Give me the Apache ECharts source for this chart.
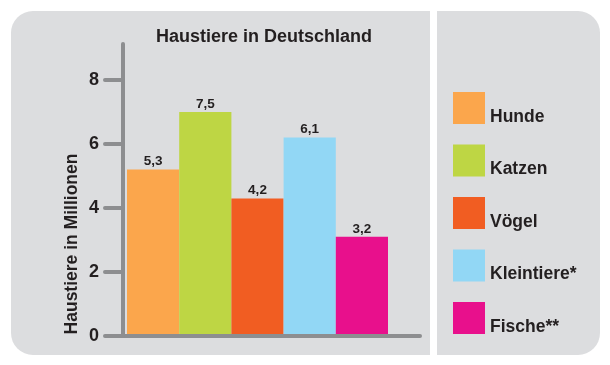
<!DOCTYPE html>
<html>
<head>
<meta charset="utf-8">
<script src="https://cdn.jsdelivr.net/npm/echarts@6/dist/echarts.min.js"></script>
<style>html,body{margin:0;padding:0;background:#fff;}#c{width:610px;height:365px;}</style>
</head>
<body>
<div id="c"></div>
<script>
// Data
const categories = ['Hunde', 'Katzen', 'Vögel', 'Kleintiere*', 'Fische**'];
const values = [5.2, 7.0, 4.3, 6.2, 3.1];          // bar heights as drawn
const valueLabels = ['5,3', '7,5', '4,2', '6,1', '3,2']; // printed value labels
const yTicks = [0, 2, 4, 6, 8];
const colors = ['#FBA64C', '#BED644', '#F15D22', '#92D7F5', '#E8108C'];

const FONT = 'Liberation Sans, Arial, sans-serif';
const TXT = '#231f20';
const GRAY = '#8d8e90';
const YMAX = 9.125;

const chart = echarts.init(document.getElementById('c'), null, {renderer: 'canvas'});

const series = categories.map((name, i) => ({
  name: name,
  type: 'bar',
  xAxisIndex: 1,
  yAxisIndex: 1,
  stack: 'all',
  barCategoryGap: '0%',
  itemStyle: {color: colors[i]},
  label: {
    show: true,
    position: 'top',
    distance: 1,
    fontFamily: FONT,
    fontWeight: 'bold',
    fontSize: 13.5,
    color: TXT,
    formatter: p => valueLabels[p.dataIndex]
  },
  data: categories.map((c, j) => (j === i ? values[i] : '-'))
}));

chart.setOption({
  animation: false,
  backgroundColor: '#ffffff',
  title: {
    text: 'Haustiere in Deutschland',
    left: 259,
    textAlign: 'center',
    top: 23,
    textStyle: {fontFamily: FONT, fontWeight: 'bold', fontSize: 18, color: TXT}
  },
  graphic: [
    {type: 'rect', z: -10, shape: {x: 11, y: 11, width: 419, height: 344, r: [22, 0, 0, 22]}, style: {fill: '#dcdddf'}},
    {type: 'rect', z: -10, shape: {x: 437, y: 11, width: 163, height: 344, r: [0, 22, 22, 0]}, style: {fill: '#dcdddf'}},
    {type: 'text', z: 10, x: 72, y: 244, rotation: Math.PI / 2,
     style: {text: 'Haustiere in Millionen', fontFamily: FONT, fontWeight: 'bold', fontSize: 17.5, fill: TXT, align: 'center', verticalAlign: 'middle'}}
  ],
  legend: {
    orient: 'vertical',
    left: 453,
    top: 92,
    padding: 0,
    itemWidth: 32,
    itemHeight: 32,
    itemGap: 18.5,
    icon: 'rect',
    selectedMode: false,
    data: categories,
    formatter: name => '{a|' + name + '}',
    textStyle: {
      fontFamily: FONT, fontWeight: 'bold', fontSize: 17.5, color: TXT,
      rich: {a: {fontFamily: FONT, fontWeight: 'bold', fontSize: 17.5, color: TXT, padding: [18, 0, 0, 0]}}
    }
  },
  grid: [
    {left: 123, right: 190, top: 44, bottom: 29},
    {left: 127, right: 222, top: 44, bottom: 29}
  ],
  xAxis: [
    {gridIndex: 0, type: 'value', min: 0, max: 1, z: 10,
     axisLine: {show: true, lineStyle: {color: GRAY, width: 4, cap: 'round'}},
     axisTick: {show: false}, axisLabel: {show: false}, splitLine: {show: false}},
    {gridIndex: 1, type: 'category', data: categories, show: false}
  ],
  yAxis: [
    {gridIndex: 0, type: 'value', min: 0, max: YMAX, z: 10,
     axisLine: {show: true, lineStyle: {color: GRAY, width: 4, cap: 'round'}},
     axisTick: {show: true, customValues: yTicks, length: 18, lineStyle: {color: GRAY, width: 4, cap: 'round'}},
     axisLabel: {show: true, customValues: yTicks, margin: 24, fontFamily: FONT, fontWeight: 'bold', fontSize: 18, color: TXT, padding: [0, 0, 14, 0]},
     splitLine: {show: false}},
    {gridIndex: 1, type: 'value', min: 0, max: YMAX, show: false, splitLine: {show: false}}
  ],
  series: series
});
</script>
</body>
</html>
